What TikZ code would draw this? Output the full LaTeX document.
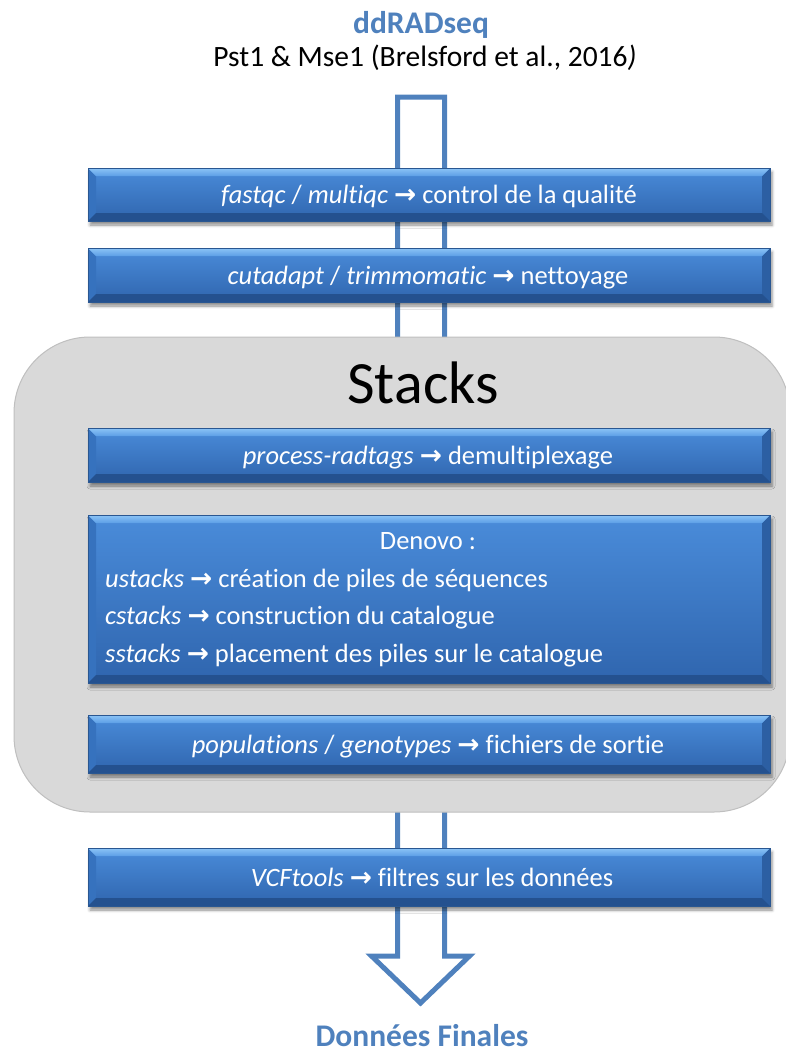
\documentclass[tikz,border=0pt]{standalone}
\usepackage{fontspec}
\setmainfont{Carlito}[Ligatures=NoCommon]
\newfontfamily\arrowfont{DejaVu Sans}
\usetikzlibrary{shadows.blur}
\definecolor{titleblue}{HTML}{4F81BD}
\definecolor{arrowblue}{HTML}{4F81BD}
\definecolor{graybox}{HTML}{D9D9D9}
\definecolor{grayline}{HTML}{BFBFBF}
\definecolor{bxtop}{HTML}{4A8CDA}
\definecolor{bxmid}{HTML}{3D7BC9}
\definecolor{bxbot}{HTML}{2F65AE}
\definecolor{bevtopA}{HTML}{8CC4F6}
\definecolor{bevtopB}{HTML}{5C9EE6}
\definecolor{bevbot}{HTML}{24518F}
\definecolor{bevleft}{HTML}{3672BE}
\definecolor{bevright}{HTML}{2C5FA3}
\definecolor{bxedge}{HTML}{2A5791}
\newcommand\Arr{{\arrowfont\bfseries →}}
\newcommand\bevelbox[4]{%
  \path[blur shadow={shadow xshift=2pt,shadow yshift=-4pt,shadow blur radius=3pt,shadow opacity=45}] (#1,#2) rectangle (#3,#4);
  \shade[top color=bxtop, middle color=bxmid, bottom color=bxbot] (#1,#2) rectangle (#3,#4);
  \fill[bevleft] (#1,#2) -- (#1+8,#2+8) -- (#1+8,#4-8) -- (#1,#4) -- cycle;
  \fill[bevright] (#3,#2) -- (#3-8,#2+8) -- (#3-8,#4-8) -- (#3,#4) -- cycle;
  \shade[top color=bevtopA, bottom color=bevtopB] (#1,#2) -- (#3,#2) -- (#3-8,#2+8) -- (#1+8,#2+8) -- cycle;
  \fill[bevbot] (#1,#4) -- (#3,#4) -- (#3-8,#4-8) -- (#1+8,#4-8) -- cycle;
  \draw[bxedge, line width=0.6pt] (#1,#2) rectangle (#3,#4);
}
\tikzset{
  boxtext/.style={text=white, font=\fontsize{26.5}{30}\selectfont, inner sep=0pt, anchor=base},
  bigblue/.style={text=titleblue, font=\bfseries\fontsize{31.5}{36}\selectfont, inner sep=0pt, anchor=base},
}
\begin{document}
\begin{tikzpicture}[x=1pt,y=-1pt]
\useasboundingbox (0,0) rectangle (786,1055);
% title
\node[bigblue] (title) at (421,33) {ddRADseq};
\node[font=\fontsize{29.5}{34}\selectfont, inner sep=0pt, anchor=base] (sub) at (425,66) {Pst1 \& Mse1 (Brelsford et al., 2016\textit{)}};
% hollow arrow
\draw[arrowblue, line width=5pt, fill=white, line join=miter]
  (397.5,97) -- (444.5,97) -- (444.5,956) -- (469.5,956) -- (420.5,1003) -- (371.5,956) -- (397.5,956) -- cycle;
% Stacks gray box
\draw[grayline, fill=graybox, line width=1pt, rounded corners=76pt] (14,337) rectangle (790,812);
\node[font=\fontsize{60}{66}\selectfont, inner sep=0pt, anchor=base] (stacks) at (423,403) {Stacks};
% boxes
\bevelbox{88}{168}{770}{221}
\node[boxtext] (b1) at (429,203.5) {\textit{fastqc} / \textit{multiqc} \Arr{} control de la qualité};
\bevelbox{88}{248}{770}{302}
\node[boxtext] (b2) at (428,284) {\textit{cutadapt} / \textit{trimmomatic} \Arr{} nettoyage};
\bevelbox{88}{428}{770}{482}
\node[boxtext] (b3) at (428,464) {\textit{process-radtags} \Arr{} demultiplexage};
\bevelbox{88}{515}{770}{683}
\node[boxtext] (b4) at (428,549.5) {Denovo :};
\node[boxtext, anchor=base west] (b4a) at (105,587) {\textit{ustacks} \Arr{} création de piles de séquences};
\node[boxtext, anchor=base west] (b4b) at (105,624.5) {\textit{cstacks} \Arr{} construction du catalogue};
\node[boxtext, anchor=base west] (b4c) at (105,662) {\textit{sstacks} \Arr{} placement des piles sur le catalogue};
\bevelbox{88}{715}{770}{773}
\node[boxtext] (b5) at (428,753) {\textit{populations} / \textit{genotypes} \Arr{} fichiers de sortie};
\bevelbox{88}{848}{770}{906}
\node[boxtext] (b6) at (432,886) {\textit{VCFtools} \Arr{} filtres sur les données};
% final
\node[bigblue] (final) at (422,1046) {Données Finales};
\end{tikzpicture}
\end{document}
